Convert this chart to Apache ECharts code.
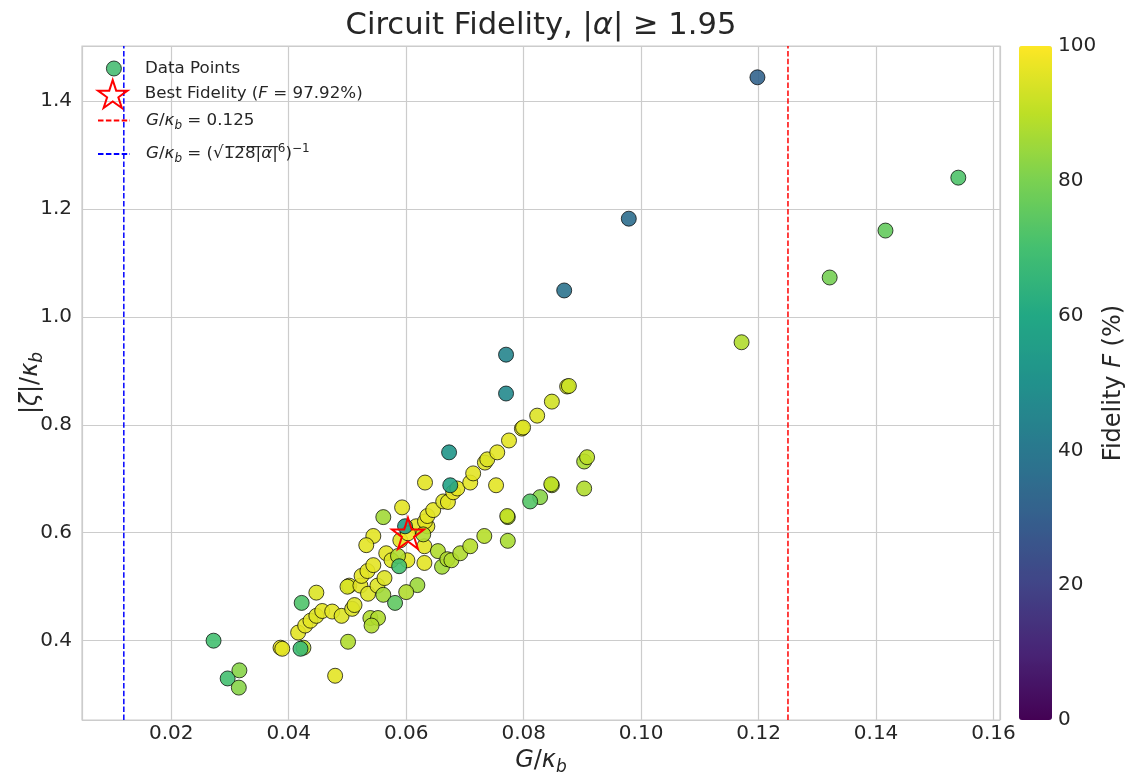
<!DOCTYPE html>
<html><head><meta charset="utf-8">
<script src="https://cdn.jsdelivr.net/npm/echarts@6/dist/echarts.min.js"></script>
<style>html,body{margin:0;padding:0;background:#fff}#c{width:1129px;height:774px}</style>
</head><body><div id="c"></div>
<script>
// ---- data ----
const gValues = [
  0.0416,0.0428,0.0437,0.0447,0.0457,0.0474,0.0490,0.0508,0.0512,0.0447,0.0386,0.0389,0.0479,
  0.0503,0.0500,0.0522,0.0524,0.0534,0.0544,0.0535,0.0551,0.0563,0.0544,0.0532,0.0566,0.0575,
  0.0602,0.0590,0.0593,0.0617,0.0631,0.0631,0.0632,0.0636,0.0632,0.0636,0.0646,0.0663,0.0671,
  0.0680,0.0687,0.0709,0.0714,0.0734,0.0738,0.0753,0.0755,0.0775,0.0797,0.0799,0.0823,0.0848,
  0.0874,0.0877,0.0603,
  0.0561,0.0586,0.0629,0.0654,0.0661,0.0670,0.0677,0.0692,0.0709,0.0733,0.0619,0.0600,0.0561,
  0.0539,0.0552,0.0541,0.0501,0.0425,0.0773,0.0772,0.0848,0.0847,0.0903,0.0908,0.0903,0.0828,
  0.1171,0.0773,
  0.0811,0.0581,0.0588,0.0422,0.0420,0.0272,0.0296,0.0316,0.0315,0.1321,0.1416,0.1540,
  0.0598,0.0673,0.0675,0.0770,0.0770,0.0869,0.0979,0.1198
];
const zetaValues = [
  0.415,0.428,0.437,0.446,0.455,0.454,0.446,0.459,0.466,0.489,0.387,0.385,0.335,
  0.502,0.500,0.502,0.520,0.529,0.540,0.487,0.502,0.516,0.594,0.577,0.562,0.549,
  0.549,0.586,0.647,0.612,0.575,0.544,0.693,0.612,0.621,0.631,0.642,0.658,0.657,
  0.675,0.682,0.693,0.710,0.730,0.736,0.688,0.749,0.771,0.793,0.795,0.817,0.843,
  0.871,0.872,0.599,
  0.629,0.557,0.597,0.566,0.537,0.551,0.549,0.562,0.575,0.594,0.503,0.490,0.485,
  0.442,0.442,0.428,0.398,0.387,0.629,0.631,0.688,0.690,0.732,0.740,0.682,0.666,
  0.953,0.585,
  0.658,0.470,0.538,0.470,0.385,0.400,0.330,0.345,0.313,1.073,1.160,1.258,
  0.612,0.749,0.688,0.858,0.930,1.049,1.182,1.444
];
const fidelityValues = [
  96,96,96,95,96,96,95,95,95,95,97,96,96,
  95,94,96,96,96,96,95,95,95,96,96,96,95,
  96,96,96,96,96,96,96,96,96,96,96,95,96,
  97,96,96,96,95,95,96,96,96,96,95,95,93,
  93,92,97.92,
  86,88,88,88,86,88,88,88,89,89,85,88,86,
  88,88,88,88,88,88,91,88,90,87,90,88,82,
  88,87,
  73,75,70,72,68,70,70,82,82,79,76,72,
  55,52,58,47,45,38,36,32
];
const bestPoint = [0.0603, 0.599];
const bestFidelity = 97.92;
const redLineG = 0.125;
const blueLineG = 0.01192;
const xRange = [0.0048, 0.1611];
const yRange = [0.253, 1.502];
const colorbarRange = [0, 100];

const viridis = ['#440154','#482475','#414487','#355f8d','#2a788e','#21918c','#22a884','#44bf70','#7ad151','#bddf26','#fde725'];
const starPath = 'path://M50,0 L61.2,34.5 L97.6,34.5 L68.2,55.9 L79.4,90.5 L50,69.1 L20.6,90.5 L31.8,55.9 L2.4,34.5 L38.8,34.5 Z';

const scatterData = gValues.map((g, i) => [g, zetaValues[i], fidelityValues[i]]);

const FONT = 'DejaVu Sans';
const TXT = '#262626';
const TICK = 20;
const LEG = 16.7;
const NAME = 24;
const legendRich = {
  t: {fontFamily: FONT, fontSize: LEG, color: TXT, lineHeight: 22},
  i: {fontFamily: FONT, fontSize: LEG, color: TXT, fontStyle: 'italic', lineHeight: 22},
  sub: {fontFamily: FONT, fontSize: 12, color: TXT, fontStyle: 'italic', lineHeight: 13, verticalAlign: 'bottom'},
  sup: {fontFamily: FONT, fontSize: 12, color: TXT, lineHeight: 13, verticalAlign: 'top'}
};
const legendText = {
  'Data Points': '{t|Data Points}',
  'Best Fidelity': '{t|Best Fidelity (}{i|F}{t| = ' + bestFidelity.toFixed(2) + '%)}',
  'redLine': '{i|G}{t|/}{i|κ}{sub|b}{t| = ' + redLineG + '}',
  'blueLine': '{i|G}{t|/}{i|κ}{sub|b}{t| = (√1̅2̅8̅|̅}{i|α̅}{t||̅}{sup|6}{t|)}{sup|−1}'
};
function mkLegend(left, top, h, pad, item) {
  return {
    left: left, top: top, padding: 0, itemWidth: 32, itemHeight: h, itemGap: 0,
    selectedMode: false, data: [item],
    formatter: n => legendText[n],
    textStyle: {padding: [0, 0, 0, pad], rich: legendRich}
  };
}
const hiddenSymbol = {opacity: 0, color: 'rgba(0,0,0,0)', borderWidth: 0};
const nameRich = {
  t: {fontFamily: FONT, fontSize: NAME, color: TXT, lineHeight: 30},
  i: {fontFamily: FONT, fontSize: NAME, color: TXT, fontStyle: 'italic', lineHeight: 30},
  sub: {fontFamily: FONT, fontSize: 17, color: TXT, fontStyle: 'italic', lineHeight: 18, verticalAlign: 'bottom'}
};

const chart = echarts.init(document.getElementById('c'), null, {renderer: 'canvas'});
chart.setOption({
  backgroundColor: '#fff',
  animation: false,
  title: {
    text: '{t|Circuit Fidelity, |}{i|α}{t|| ≥ 1.95}',
    left: 541, top: 7, textAlign: 'center', padding: 0,
    textStyle: {rich: {
      t: {fontFamily: FONT, fontSize: 30.6, color: TXT, fontWeight: 'normal', lineHeight: 38},
      i: {fontFamily: FONT, fontSize: 30.6, color: TXT, fontStyle: 'italic', fontWeight: 'normal', lineHeight: 38}
    }}
  },
  legend: [
    mkLegend(106, 60, 15, 10, {name: 'Data Points', icon: 'circle', itemStyle: {color: '#48bd73', borderColor: '#000', borderWidth: 0.8}}),
    mkLegend(97, 79, 28, 11, {name: 'Best Fidelity', icon: starPath, itemStyle: {color: 'rgba(0,0,0,0)', borderColor: '#ff0000', borderWidth: 2}}),
    mkLegend(97, 112, 14, 11, {name: 'redLine', itemStyle: hiddenSymbol}),
    mkLegend(97, 143, 14, 11, {name: 'blueLine', itemStyle: hiddenSymbol})
  ],
  grid: [
    {left: 82, right: 129, top: 46, bottom: 54, show: true, borderColor: '#cccccc', borderWidth: 1.2, backgroundColor: '#fff', outerBoundsMode: 'none', containLabel: false},
    {left: 1019, width: 33, top: 46, height: 674, show: false, outerBoundsMode: 'none', containLabel: false}
  ],
  visualMap: {
    type: 'continuous', seriesIndex: 0, dimension: 2,
    min: colorbarRange[0], max: colorbarRange[1],
    inRange: {color: viridis},
    left: 1019, top: 46, itemWidth: 33, itemHeight: 674, padding: 0,
    calculable: false, hoverLink: false, text: null, showLabel: false
  },
  xAxis: [{
    type: 'value', min: xRange[0], max: xRange[1], splitNumber: 8,
    name: '{i|G}{t|/}{i|κ}{sub|b}', nameLocation: 'middle', nameGap: 26, nameMoveOverlap: false,
    nameTextStyle: {rich: nameRich},
    axisLine: {show: false}, axisTick: {show: false},
    axisLabel: {fontFamily: FONT, fontSize: TICK, color: TXT, margin: 4, showMinLabel: false, showMaxLabel: false,
      formatter: v => v.toFixed(2)},
    splitLine: {show: true, lineStyle: {color: '#cccccc', width: 1.2}}
  }, {
    gridIndex: 1, type: 'value', show: false, min: 0, max: 1
  }],
  yAxis: [{
    type: 'value', min: yRange[0], max: yRange[1], splitNumber: 6,
    name: '{t||}{i|ζ}{t||/}{i|κ}{sub|b}', nameLocation: 'middle', nameGap: 36, nameRotate: 90, nameMoveOverlap: false,
    nameTextStyle: {rich: nameRich},
    axisLine: {show: false}, axisTick: {show: false},
    axisLabel: {fontFamily: FONT, fontSize: TICK, color: TXT, margin: 10, showMinLabel: false, showMaxLabel: false,
      formatter: v => v.toFixed(1)},
    splitLine: {show: true, lineStyle: {color: '#cccccc', width: 1.2}}
  }, {
    gridIndex: 1, type: 'value', position: 'right', min: colorbarRange[0], max: colorbarRange[1], interval: 20,
    name: '{t|Fidelity }{i|F}{t| (%)}', nameLocation: 'middle', nameGap: 47, nameRotate: 90, nameMoveOverlap: false,
    nameTextStyle: {rich: nameRich},
    axisLine: {show: false}, axisTick: {show: false}, splitLine: {show: false},
    axisLabel: {fontFamily: FONT, fontSize: TICK, color: TXT, margin: 6}
  }],
  series: [
    {
      name: 'Data Points', type: 'scatter', data: scatterData, symbol: 'circle', symbolSize: 15,
      itemStyle: {borderColor: '#000', borderWidth: 0.8, opacity: 0.9}, z: 3
    },
    {
      name: 'Best Fidelity', type: 'scatter', data: [bestPoint], symbol: starPath, symbolSize: [32, 31],
      itemStyle: {color: 'rgba(0,0,0,0)', borderColor: '#ff0000', borderWidth: 2, opacity: 1}, z: 5
    },
    {
      name: 'redLine', type: 'line', data: [[redLineG, yRange[0]], [redLineG, yRange[1]]], symbol: 'none',
      lineStyle: {color: '#ff0000', width: 1.5, type: [5.5, 2.4]}, itemStyle: {color: '#ff0000'}, z: 2
    },
    {
      name: 'blueLine', type: 'line', data: [[blueLineG, yRange[0]], [blueLineG, yRange[1]]], symbol: 'none',
      lineStyle: {color: '#0000ff', width: 1.5, type: [5.5, 2.4]}, itemStyle: {color: '#0000ff'}, z: 2
    }
  ]
});
</script></body></html>
